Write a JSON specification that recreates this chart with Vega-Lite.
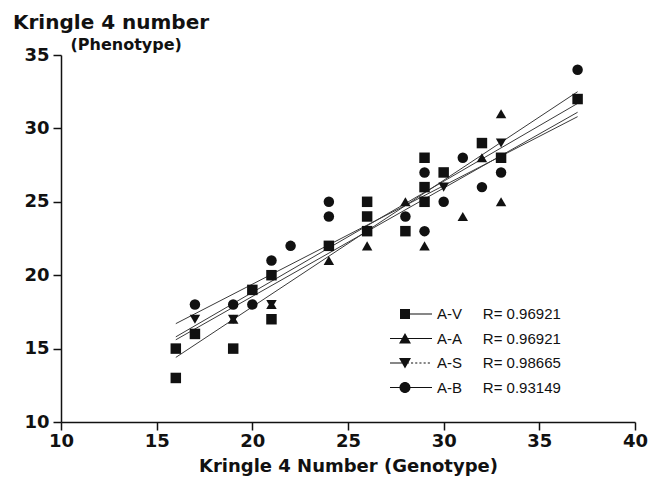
{
  "$schema": "https://vega.github.io/schema/vega-lite/v6.json",
  "width": 574,
  "height": 367,
  "autosize": {"type": "none"},
  "padding": {"left": 61, "top": 55, "right": 16, "bottom": 64},
  "background": "white",
  "title": {"text": "Kringle 4 number", "anchor": "start", "frame": "group", "font": "DejaVu Sans", "fontWeight": "bold", "fontSize": 20, "color": "#111", "dx": -48, "offset": 3},
  "datasets": {
    "points": [
      {"series": "A-V", "x": 16, "y": 15}, {"series": "A-V", "x": 16, "y": 13}, {"series": "A-V", "x": 17, "y": 16},
      {"series": "A-V", "x": 19, "y": 15}, {"series": "A-V", "x": 20, "y": 19}, {"series": "A-V", "x": 21, "y": 20},
      {"series": "A-V", "x": 21, "y": 17}, {"series": "A-V", "x": 24, "y": 22}, {"series": "A-V", "x": 26, "y": 25},
      {"series": "A-V", "x": 26, "y": 24}, {"series": "A-V", "x": 26, "y": 23}, {"series": "A-V", "x": 28, "y": 23},
      {"series": "A-V", "x": 29, "y": 28}, {"series": "A-V", "x": 29, "y": 26}, {"series": "A-V", "x": 29, "y": 25},
      {"series": "A-V", "x": 30, "y": 27}, {"series": "A-V", "x": 32, "y": 29}, {"series": "A-V", "x": 33, "y": 28},
      {"series": "A-V", "x": 37, "y": 32},
      {"series": "A-A", "x": 19, "y": 17}, {"series": "A-A", "x": 21, "y": 18}, {"series": "A-A", "x": 24, "y": 21},
      {"series": "A-A", "x": 26, "y": 22}, {"series": "A-A", "x": 28, "y": 25}, {"series": "A-A", "x": 29, "y": 22},
      {"series": "A-A", "x": 31, "y": 24}, {"series": "A-A", "x": 32, "y": 28}, {"series": "A-A", "x": 33, "y": 31},
      {"series": "A-A", "x": 33, "y": 25},
      {"series": "A-S", "x": 17, "y": 17}, {"series": "A-S", "x": 19, "y": 17}, {"series": "A-S", "x": 21, "y": 18},
      {"series": "A-S", "x": 30, "y": 26}, {"series": "A-S", "x": 33, "y": 29},
      {"series": "A-B", "x": 17, "y": 18}, {"series": "A-B", "x": 19, "y": 18}, {"series": "A-B", "x": 20, "y": 18},
      {"series": "A-B", "x": 21, "y": 21}, {"series": "A-B", "x": 22, "y": 22}, {"series": "A-B", "x": 24, "y": 25},
      {"series": "A-B", "x": 24, "y": 24}, {"series": "A-B", "x": 28, "y": 24}, {"series": "A-B", "x": 29, "y": 27},
      {"series": "A-B", "x": 29, "y": 23}, {"series": "A-B", "x": 30, "y": 25}, {"series": "A-B", "x": 31, "y": 28},
      {"series": "A-B", "x": 32, "y": 26}, {"series": "A-B", "x": 33, "y": 27}, {"series": "A-B", "x": 37, "y": 34}
    ],
    "fits": [
      {"series": "A-V", "x": 16, "y": 14.4}, {"series": "A-V", "x": 37, "y": 32.5},
      {"series": "A-A", "x": 16, "y": 15.6}, {"series": "A-A", "x": 37, "y": 31.1},
      {"series": "A-S", "x": 16, "y": 15.8}, {"series": "A-S", "x": 37, "y": 31.7},
      {"series": "A-B", "x": 16, "y": 16.7}, {"series": "A-B", "x": 37, "y": 30.8}
    ]
  },
  "layer": [
    {
      "data": {"name": "fits"},
      "mark": {"type": "line", "color": "#3a3a3a", "strokeWidth": 1},
      "encoding": {
        "x": {"field": "x", "type": "quantitative", "scale": {"domain": [10, 40], "nice": false, "zero": false},
          "axis": {"values": [10, 15, 20, 25, 30, 35, 40], "title": "Kringle 4 Number  (Genotype)", "labelFlush": false, "labelOverlap": false, "titleFontSize": 18, "titleY": 49, "titleBaseline": "alphabetic", "labelPadding": 2}},
        "y": {"field": "y", "type": "quantitative", "scale": {"domain": [10, 35], "nice": false, "zero": false},
          "axis": {"values": [10, 15, 20, 25, 30, 35], "title": "(Phenotype)", "titleAngle": 0, "titleAlign": "left", "titleBaseline": "alphabetic", "titleX": 9, "titleY": -6, "titleFontSize": 16, "labelFlush": false, "labelOverlap": false, "labelPadding": 4}},
        "detail": {"field": "series"}
      }
    },
    {
      "data": {"name": "points"},
      "mark": {"type": "point", "filled": true, "opacity": 1, "color": "#111", "size": 110},
      "encoding": {
        "x": {"field": "x", "type": "quantitative", "scale": {"domain": [10, 40], "nice": false, "zero": false}},
        "y": {"field": "y", "type": "quantitative", "scale": {"domain": [10, 35], "nice": false, "zero": false}},
        "shape": {"field": "series", "scale": {"domain": ["A-V", "A-A", "A-S", "A-B"], "range": ["square", "triangle-up", "triangle-down", "circle"]}, "legend": null}
      }
    },
    {
      "data": {"name": "fits"},
      "mark": {"type": "point", "filled": true, "opacity": 0, "color": "#111"},
      "encoding": {
        "x": {"field": "x", "type": "quantitative", "scale": {"domain": [10, 40], "nice": false, "zero": false}},
        "y": {"field": "y", "type": "quantitative", "scale": {"domain": [10, 35], "nice": false, "zero": false}},
        "shape": {
          "field": "series",
          "scale": {"domain": ["A-V", "A-A", "A-S", "A-B"], "range": [
            "M-0.524,-0.238H-0.048V0.238H-0.524Z M-0.286,-0.024H1V0.024H-0.286Z",
            "M-0.286,-0.262L0,0.238H-0.571Z M-1,-0.024H1V0.024H-1Z",
            "M-0.571,-0.238H0L-0.286,0.262Z M-1,-0.024H-0.3V0.024H-1Z M-0.2,-0.024H-0.1V0.024H-0.2Z M0,-0.024H0.1V0.024H0Z M0.2,-0.024H0.3V0.024H0.2Z M0.4,-0.024H0.5V0.024H0.4Z M0.6,-0.024H0.7V0.024H0.6Z M0.8,-0.024H0.9V0.024H0.8Z",
            "M-0.548,0A0.262,0.262 0 1,1 -0.024,0A0.262,0.262 0 1,1 -0.548,0Z M-1,-0.024H1V0.024H-1Z"
          ]},
          "legend": {
            "orient": "none", "legendX": 329, "legendY": 247, "title": null,
            "symbolSize": 1764, "clipHeight": 24, "rowPadding": 0.5, "padding": 0,
            "labelFont": "Liberation Sans", "labelFontSize": 15, "labelColor": "#111", "labelOffset": 5,
            "symbolStrokeWidth": 0, "symbolFillColor": "#111", "symbolOpacity": 1,
            "labelExpr": "datum.label + '\u00a0\u00a0\u00a0\u00a0\u00a0R=\u00a00.' + (datum.label == 'A-V' ? '96921' : datum.label == 'A-A' ? '96921' : datum.label == 'A-S' ? '98665' : '93149')"
          }
        }
      }
    }
  ],
  "resolve": {"scale": {"shape": "independent"}, "legend": {"shape": "independent"}},
  "config": {
    "view": {"stroke": null},
    "axis": {
      "grid": false,
      "labelFont": "DejaVu Sans", "labelFontWeight": "bold", "labelFontSize": 18, "labelColor": "#111",
      "titleFont": "DejaVu Sans", "titleFontWeight": "bold", "titleColor": "#111",
      "domainColor": "#111", "domainWidth": 1.5, "tickColor": "#111", "tickWidth": 1.5, "tickSize": 8
    }
  }
}
